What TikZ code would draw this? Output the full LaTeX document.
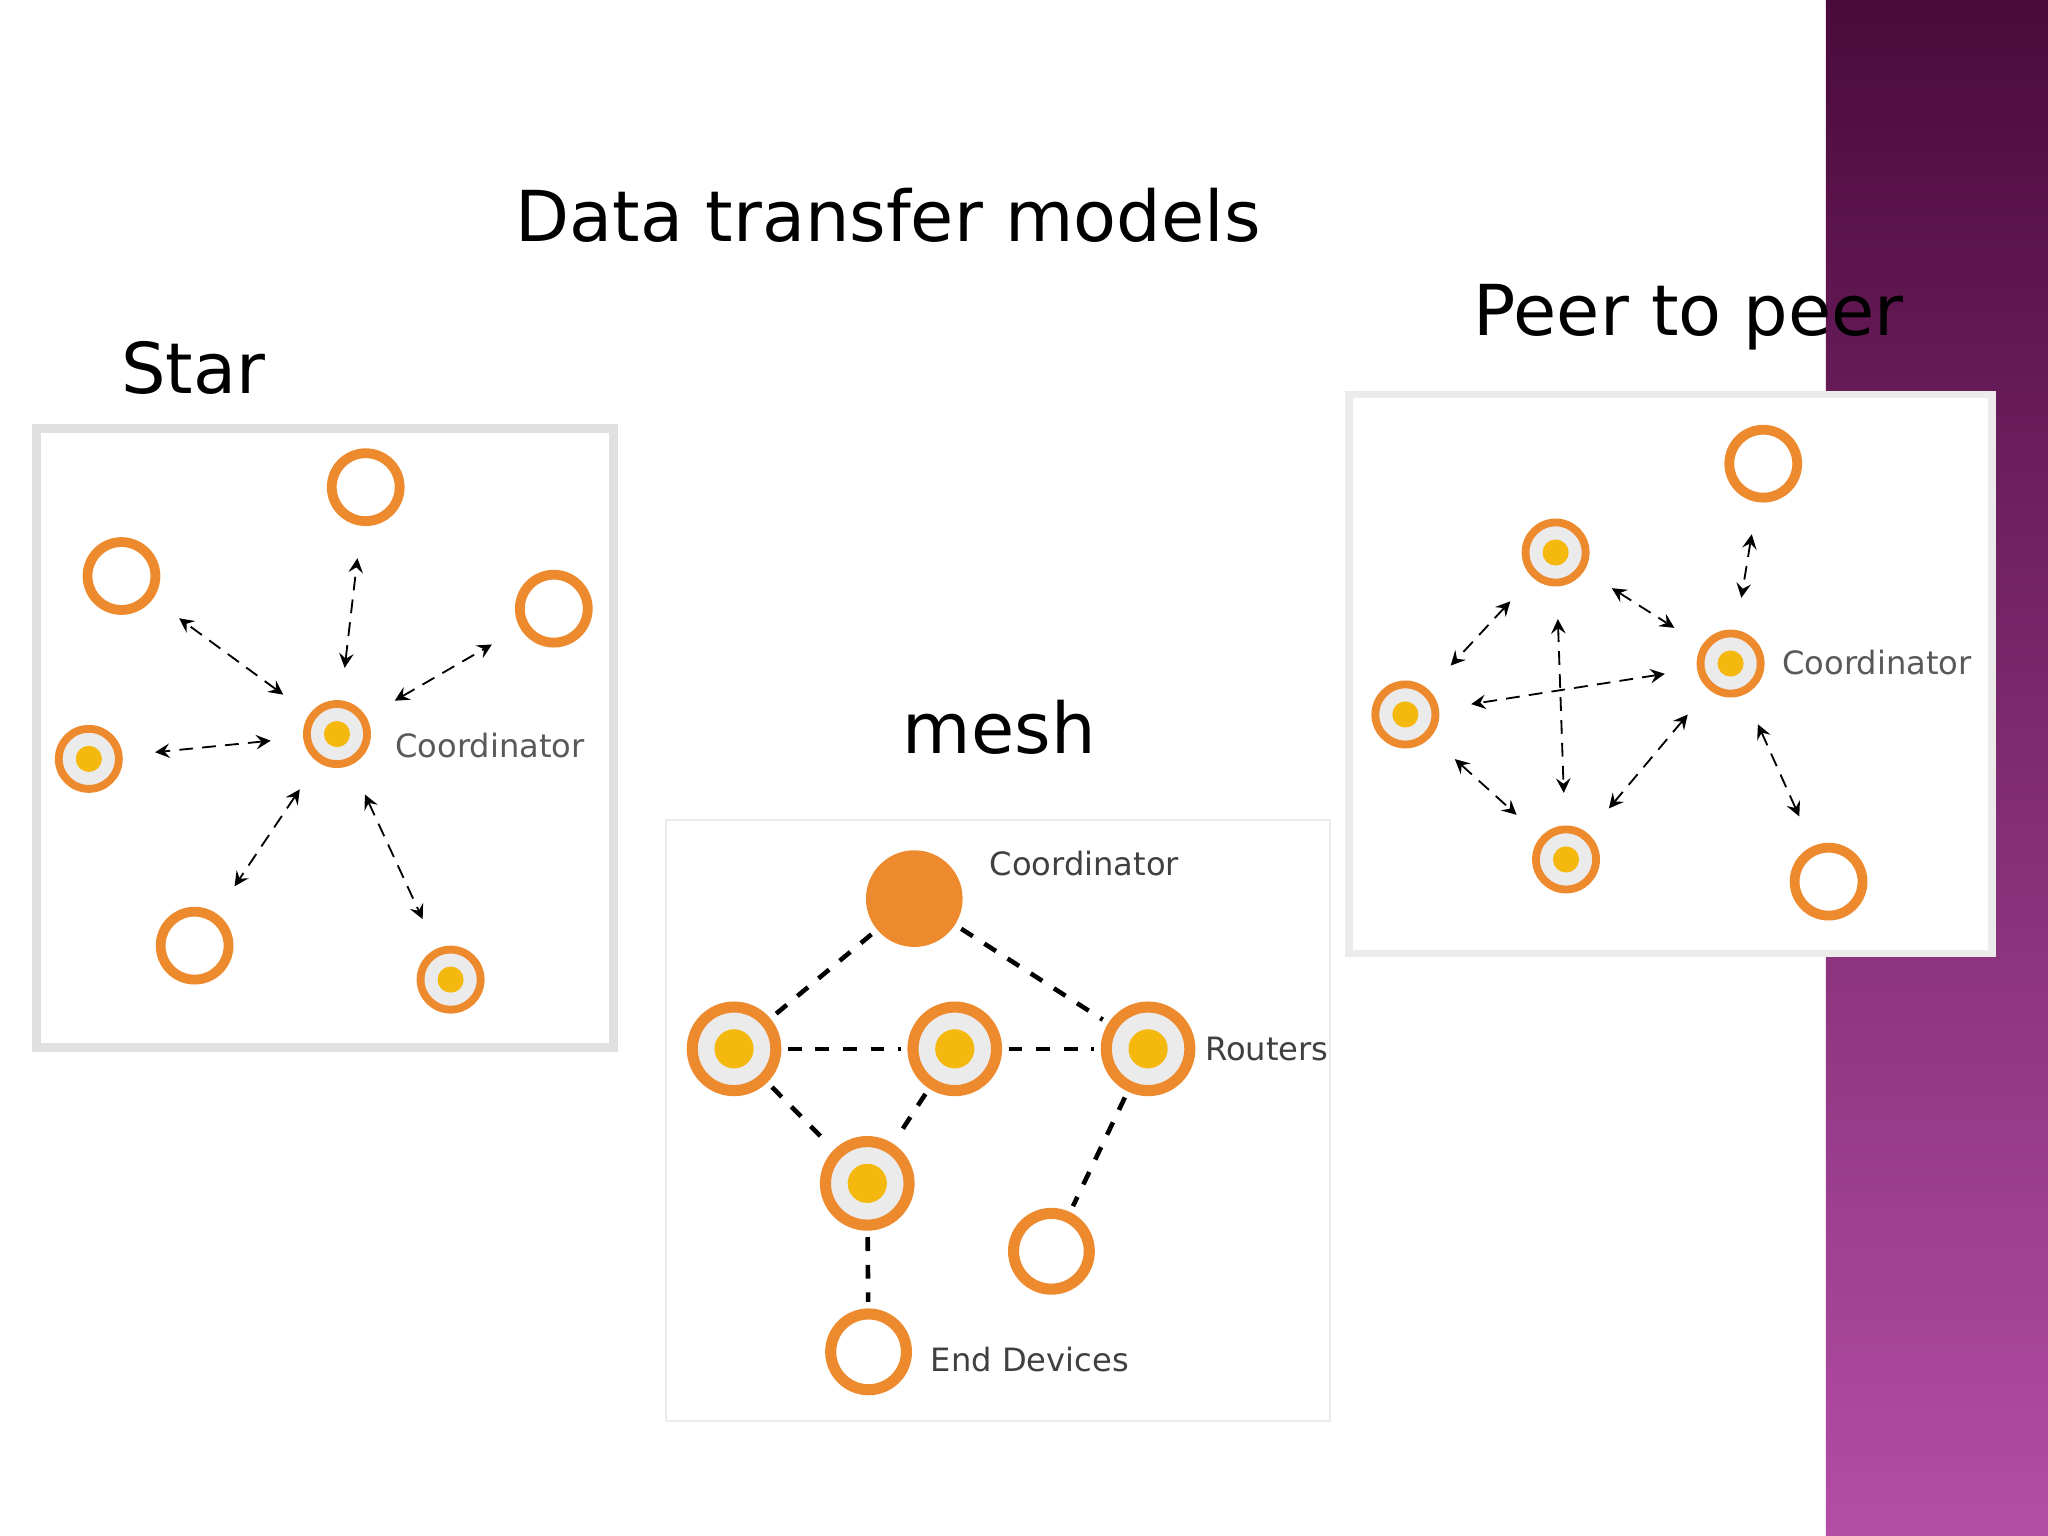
\documentclass[tikz,border=0pt]{standalone}
\usepackage{fontspec}
\setmainfont{DejaVu Sans}
\usetikzlibrary{arrows}
\definecolor{ring}{HTML}{EE8A2E}
\definecolor{dot}{HTML}{F5B80F}
\definecolor{bandtop}{HTML}{4B0A3C}
\definecolor{bandbot}{HTML}{B44DA6}
\tikzset{
  heading/.style={font=\fontsize{15.3}{18}\selectfont},
  panel/.style={draw=black!12,line width=0.7mm,fill=white},
  lbl/.style={font=\fontsize{7}{8}\selectfont,text=black!65,anchor=west,inner sep=0},
  dev/.style={circle,draw=ring,line width=0.75mm,minimum size=5.2mm,inner sep=0,fill=white},
  rtr/.style={circle,draw=ring,line width=0.6mm,minimum size=4.6mm,inner sep=0,fill=black!8,
    path picture={\fill[dot] (path picture bounding box.center) circle (1mm);}},
  bigrtr/.style={rtr,minimum size=6.4mm,line width=0.85mm,
    path picture={\fill[dot] (path picture bounding box.center) circle (1.5mm);}},
  bigdev/.style={dev,minimum size=5.8mm,line width=0.85mm},
  link/.style={<->,>=stealth,densely dashed,thin,shorten >=2.5mm,shorten <=2.5mm},
  wire/.style={dashed,line width=0.35mm,shorten >=0.5mm,shorten <=0.5mm}
}
\begin{document}
\begin{tikzpicture}[x=0.1mm,y=-0.1mm]
\useasboundingbox (0,0) rectangle (1568,1176);
\shade[top color=bandtop,bottom color=bandbot] (1398,0) rectangle (1568,1176);
% headings
\node[heading] (title) at (680,165) {Data transfer models};
\node[heading] (hstar) at (148,282) {Star};
\node[heading] (hmesh) at (765,557) {mesh};
\node[heading] (hp2p) at (1293,243) {Peer to peer};
% star
\draw[panel] (28,328) rectangle (470,802);
\node[rtr] (sc) at (258,562) {};
\node[dev] (s1) at (280,373) {};
\node[dev] (s2) at (93,441) {};
\node[dev] (s3) at (424,466) {};
\node[rtr] (s4) at (68,581) {};
\node[dev] (s5) at (149,724) {};
\node[rtr] (s6) at (345,750) {};
\node[lbl] (sl) at (302,571) {Coordinator};
\draw[link] (sc) edge (s1) (sc) edge (s2) (sc) edge (s3)
            (sc) edge (s4) (sc) edge (s5) (sc) edge (s6);
% mesh
\draw[draw=black!8,fill=white] (510,628) rectangle (1018,1088);
\node[circle,fill=ring,minimum size=7.4mm,inner sep=0] (mc) at (700,688) {};
\node[bigrtr] (m1) at (562,803) {};
\node[bigrtr] (m2) at (731,803) {};
\node[bigrtr] (m3) at (879,803) {};
\node[bigrtr] (m4) at (664,906) {};
\node[bigdev] (m5) at (805,958) {};
\node[bigdev] (m6) at (665,1035) {};
\node[lbl,text=black!75] (ml1) at (757,661) {Coordinator};
\node[lbl,text=black!75] (ml2) at (922,803) {Routers};
\node[lbl,text=black!75] (ml3) at (712,1041) {End Devices};
\draw[wire] (mc) edge (m1) (mc) edge (m3) (m1) edge (m2) (m2) edge (m3)
            (m1) edge (m4) (m2) edge (m4) (m4) edge (m6) (m3) edge (m5);
% peer to peer
\draw[panel,line width=0.6mm,draw=black!8] (1033,302) rectangle (1525,730);
\node[dev] (p1) at (1350,355) {};
\node[rtr] (p2) at (1191,423) {};
\node[rtr] (pc) at (1325,508) {};
\node[rtr] (p3) at (1076,547) {};
\node[rtr] (p4) at (1199,658) {};
\node[dev] (p5) at (1400,675) {};
\node[lbl] (pl) at (1364,507) {Coordinator};
\draw[link] (p2) edge (pc) (p1) edge (pc) (p2) edge (p3) (pc) edge (p3)
            (p2) edge (p4) (p3) edge (p4) (pc) edge (p4) (pc) edge (p5);
\end{tikzpicture}
\end{document}
